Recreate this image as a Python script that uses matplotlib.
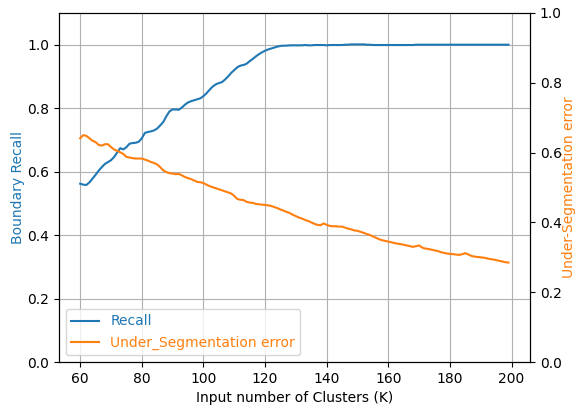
import matplotlib
matplotlib.use('Agg')
import matplotlib.pyplot as plt
import numpy as np

k_values = list(range(60, 200))

recall = [0.562, 0.559, 0.558, 0.566, 0.578, 0.590, 0.603, 0.614, 0.624, 0.630,
          0.636, 0.646, 0.660, 0.674, 0.670, 0.677, 0.688, 0.690, 0.691, 0.694,
          0.705, 0.722, 0.725, 0.727, 0.730, 0.736, 0.746, 0.757, 0.775, 0.790,
          0.796, 0.796, 0.795, 0.802, 0.811, 0.818, 0.822, 0.825, 0.828, 0.831,
          0.838, 0.847, 0.858, 0.868, 0.875, 0.879, 0.882, 0.890, 0.900, 0.911,
          0.920, 0.929, 0.934, 0.936, 0.940, 0.948, 0.955, 0.963, 0.970, 0.976,
          0.981, 0.985, 0.988, 0.991, 0.994, 0.996, 0.997, 0.997, 0.998, 0.998,
          0.998, 0.998, 0.998, 0.999, 0.998, 0.998, 0.999, 0.999, 0.999, 0.999,
          0.998, 0.999, 0.999, 0.999, 0.999, 0.999, 1.000, 1.000, 1.001, 1.001,
          1.001, 1.001, 1.001, 1.000, 1.000, 0.999, 0.999, 0.999, 0.999, 0.999,
          0.999, 0.999, 0.999, 0.999, 0.999, 0.999, 0.999, 0.999, 0.999, 1.000,
          1.000, 1.000, 1.000, 1.000, 1.000, 1.000, 1.000, 1.000, 1.000, 1.000,
          1.000, 1.000, 1.000, 1.000, 1.000, 1.000, 1.000, 1.000, 1.000, 1.000,
          1.000, 1.000, 1.000, 1.000, 1.000, 1.000, 1.000, 1.000, 1.000, 1.000]

under_seg = [0.641, 0.650, 0.648, 0.641, 0.634, 0.630, 0.622, 0.620, 0.624, 0.624,
             0.616, 0.609, 0.605, 0.601, 0.596, 0.588, 0.586, 0.584, 0.583, 0.583,
             0.583, 0.580, 0.577, 0.573, 0.570, 0.566, 0.558, 0.549, 0.544, 0.541,
             0.540, 0.538, 0.539, 0.535, 0.530, 0.527, 0.524, 0.520, 0.516, 0.515,
             0.513, 0.508, 0.504, 0.501, 0.498, 0.495, 0.492, 0.489, 0.486, 0.483,
             0.476, 0.467, 0.465, 0.464, 0.459, 0.457, 0.456, 0.453, 0.452, 0.451,
             0.450, 0.449, 0.447, 0.444, 0.441, 0.437, 0.434, 0.430, 0.427, 0.422,
             0.418, 0.414, 0.411, 0.407, 0.404, 0.400, 0.396, 0.393, 0.392, 0.397,
             0.393, 0.390, 0.389, 0.389, 0.388, 0.388, 0.385, 0.382, 0.380, 0.377,
             0.376, 0.373, 0.370, 0.367, 0.364, 0.360, 0.356, 0.352, 0.349, 0.347,
             0.345, 0.343, 0.341, 0.339, 0.338, 0.336, 0.334, 0.332, 0.330, 0.332,
             0.334, 0.328, 0.325, 0.324, 0.322, 0.320, 0.318, 0.315, 0.313, 0.311,
             0.310, 0.309, 0.308, 0.307, 0.309, 0.312, 0.308, 0.304, 0.302, 0.301,
             0.300, 0.299, 0.297, 0.295, 0.294, 0.292, 0.290, 0.288, 0.286, 0.285]

fig, ax1 = plt.subplots(figsize=(5.76, 4.05), dpi=100)
fig.subplots_adjust(left=0.102, right=0.920, top=0.968, bottom=0.106)

l1, = ax1.plot(k_values, recall, color='C0', label='Recall')
ax1.set_ylim(0, 1.1)
ax1.set_ylabel('Boundary Recall', color='C0', labelpad=1.8)
ax1.set_xlabel('Input number of Clusters (K)')
ax1.grid(True)

ax2 = ax1.twinx()
l2, = ax2.plot(k_values, under_seg, color='C1', label='Under_Segmentation error')
ax2.set_ylim(0, 1.0)
ax2.set_ylabel('Under-Segmentation error', color='C1', labelpad=0.5)

leg = ax2.legend(handles=[l1, l2], loc='lower left')
for txt, line in zip(leg.get_texts(), [l1, l2]):
    txt.set_color(line.get_color())

plt.savefig('out.png')
